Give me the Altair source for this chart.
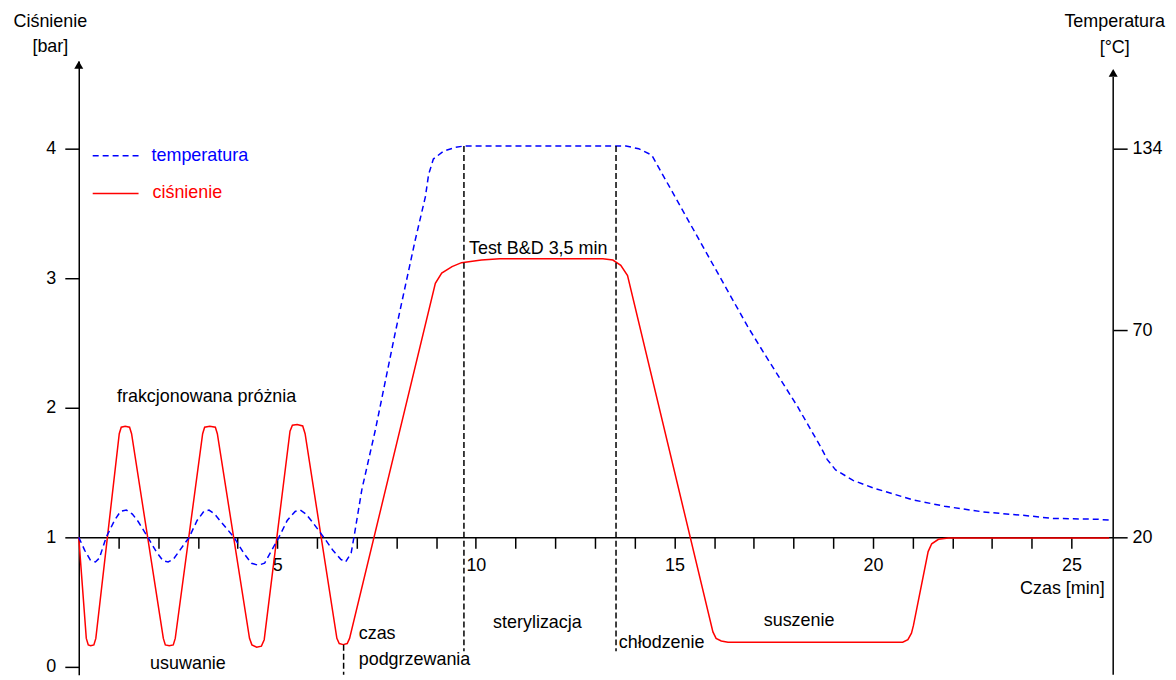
import altair as alt
import pandas as pd

# ---------------- data ----------------
# pressure curve (bar) vs time (min)
red_time = [0.0, 0.19, 0.24, 0.30, 0.38, 0.43, 1.02, 1.07, 1.17, 1.28, 1.33,
            2.13, 2.18, 2.28, 2.38, 2.43, 3.12, 3.17, 3.30, 3.44, 3.49,
            4.30, 4.36, 4.48, 4.60, 4.67, 5.32, 5.38, 5.50, 5.64, 5.70,
            6.50, 6.56, 6.66, 6.76, 6.82, 8.98, 9.14, 9.40, 9.64, 10.14,
            10.60, 13.20, 13.45, 13.65, 13.82, 15.97, 16.05, 16.18, 16.35,
            20.75, 20.88, 20.97, 21.02, 21.39, 21.48, 21.65, 21.90, 25.95]
red_pressure = [1.0, 0.22, 0.17, 0.163, 0.17, 0.22, 1.80, 1.85, 1.857, 1.85, 1.80,
                0.22, 0.17, 0.163, 0.17, 0.22, 1.80, 1.85, 1.857, 1.85, 1.80,
                0.22, 0.17, 0.152, 0.16, 0.21, 1.82, 1.865, 1.87, 1.86, 1.80,
                0.22, 0.18, 0.172, 0.18, 0.22, 2.96, 3.04, 3.09, 3.12, 3.14,
                3.15, 3.15, 3.14, 3.10, 3.02, 0.27, 0.22, 0.20, 0.19,
                0.19, 0.21, 0.26, 0.32, 0.89, 0.95, 0.985, 0.995, 0.995]

# temperature curve, read against the left (bar) scale; right axis labels it in degC
blue_time = [0.0, 0.15, 0.30, 0.42, 0.52, 0.69, 0.90, 1.05, 1.20, 1.35, 1.50, 1.74,
             1.95, 2.12, 2.25, 2.38, 2.78, 2.98, 3.15, 3.28, 3.42, 3.58, 3.91,
             4.15, 4.35, 4.52, 4.68, 5.04, 5.25, 5.45, 5.58, 5.72, 5.88, 6.17,
             6.40, 6.60, 6.72, 6.86, 6.93, 7.13, 7.47, 7.97, 8.47, 8.73, 8.81,
             8.93, 9.18, 9.48, 9.69, 13.78, 14.10, 14.43, 15.16, 16.00, 16.84,
             17.26, 18.10, 18.68, 18.85, 19.06, 19.50, 20.02, 21.00, 21.80,
             22.78, 23.78, 24.53, 25.62, 25.96]
blue_level = [1.0, 0.90, 0.82, 0.81, 0.84, 1.0, 1.13, 1.20, 1.21, 1.18, 1.12, 1.0,
              0.89, 0.82, 0.81, 0.83, 1.0, 1.13, 1.20, 1.21, 1.18, 1.12, 1.0,
              0.88, 0.80, 0.785, 0.80, 1.0, 1.13, 1.20, 1.21, 1.18, 1.12, 1.0,
              0.90, 0.83, 0.81, 0.88, 1.0, 1.37, 1.83, 2.58, 3.29, 3.63, 3.80,
              3.92, 3.98, 4.01, 4.02, 4.02, 4.00, 3.95, 3.55, 3.09, 2.63,
              2.42, 2.01, 1.70, 1.60, 1.52, 1.44, 1.38, 1.29, 1.24,
              1.196, 1.17, 1.146, 1.14, 1.133]

# dashed phase markers
phase_time = [6.67, 9.70, 13.53]
phase_top = [0.17, 4.02, 4.02]
phase_bottom = [-0.06, 0.12, 0.12]

# axes
x_tick_values = list(range(1, 26))
p_tick_values = [0, 1, 2, 3, 4]
temp_tick_labels = ["20", "70", "134"]
temp_tick_pos = [1.0, 2.6, 4.0]

# annotations
center_labels = ["frakcjonowana próżnia", "usuwanie", "sterylizacja", "suszenie", "Test B&D 3,5 min"]
center_t = [3.22, 2.75, 11.55, 18.14, 11.57]
center_p = [2.085, 0.023, 0.338, 0.354, 3.228]
left_labels = ["czas", "podgrzewania", "chłodzenie"]
left_t = [7.05, 7.05, 13.60]
left_p = [0.254, 0.054, 0.185]
legend_labels = ["temperatura", "ciśnienie"]

# ---------------- chart ----------------
W, H = 1038, 616
FONT = "Liberation Sans"
RED = "#ff0000"
BLUE = "#0000ff"

# plot spans y = 60 .. 676 px on the page; 1 bar = 130 px, 0 bar at 668 px
xscale = alt.Scale(domain=[0, 26.05], nice=False, zero=False)
yscale = alt.Scale(domain=[-0.0615, 4.677], nice=False, zero=False)

red_df = pd.DataFrame({"t": red_time, "p": red_pressure})
blue_df = pd.DataFrame({"t": blue_time, "v": blue_level})
phase_df = pd.DataFrame({"t": phase_time, "top": phase_top, "bottom": phase_bottom})
center_df = pd.DataFrame({"t": center_t, "p": center_p, "label": center_labels})
left_df = pd.DataFrame({"t": left_t, "p": left_p, "label": left_labels})
one = pd.DataFrame({"k": [0]})

temp_expr = " : ".join(
    f"datum.value == {p} ? '{l}'" for p, l in zip(temp_tick_pos, temp_tick_labels)
) + " : ''"

x_axis = alt.Axis(
    orient="bottom", values=x_tick_values, offset=-138, tickSize=11, labelPadding=8,
    labelExpr="datum.value % 5 == 0 ? datum.label : ''",
    title="Czas [min]", titleAngle=0, titleAlign="right", titleBaseline="middle",
    titleX=1029, titleY=51,
)
y_left = alt.Axis(
    orient="left", values=p_tick_values, tickSize=14, labelPadding=9,
    title=["Ciśnienie", "[bar]"], titleAngle=0, titleAlign="center",
    titleBaseline="top", titleX=-29, titleY=-49, titleLineHeight=26,
)
y_right = alt.Axis(
    orient="right", values=temp_tick_pos, labelExpr=temp_expr, domain=False,
    tickSize=14, labelPadding=5,
    title=["Temperatura", "[°C]"], titleAngle=0, titleAlign="center",
    titleBaseline="top", titleX=1, titleY=-49, titleLineHeight=27,
)

X = alt.X("t:Q", scale=xscale, axis=x_axis)

red = alt.Chart(red_df).mark_line(color=RED, strokeWidth=1.5).encode(
    x=X,
    y=alt.Y("p:Q", scale=yscale, axis=y_left),
)
blue = alt.Chart(blue_df).mark_line(color=BLUE, strokeWidth=1.5, strokeDash=[6, 4]).encode(
    x=X,
    y=alt.Y("v:Q", scale=yscale, axis=y_right),
)
phases = alt.Chart(phase_df).mark_rule(color="black", strokeWidth=1.5, strokeDash=[6, 3]).encode(
    x=X,
    y=alt.Y("top:Q", scale=yscale, axis=None),
    y2="bottom:Q",
)
txt_center = alt.Chart(center_df).mark_text(
    align="center", baseline="middle", font=FONT, fontSize=18, color="black"
).encode(
    x=X,
    y=alt.Y("p:Q", scale=yscale, axis=None),
    text="label:N",
)
txt_left = alt.Chart(left_df).mark_text(
    align="left", baseline="middle", font=FONT, fontSize=18, color="black"
).encode(
    x=X,
    y=alt.Y("p:Q", scale=yscale, axis=None),
    text="label:N",
)

# legend (drawn in pixel space, as in the reference)
leg_blue = alt.Chart(one).mark_rule(color=BLUE, strokeWidth=1.5, strokeDash=[6, 4]).encode(
    x=alt.value(14), x2=alt.value(61), y=alt.value(95))
leg_blue_t = alt.Chart(one).mark_text(align="left", baseline="middle", font=FONT, fontSize=18, color=BLUE).encode(
    x=alt.value(73), y=alt.value(95), text=alt.value(legend_labels[0]))
leg_red = alt.Chart(one).mark_rule(color=RED, strokeWidth=1.5).encode(
    x=alt.value(14), x2=alt.value(60), y=alt.value(133))
leg_red_t = alt.Chart(one).mark_text(align="left", baseline="middle", font=FONT, fontSize=18, color=RED).encode(
    x=alt.value(74), y=alt.value(133), text=alt.value(legend_labels[1]))

# right axis line and arrow heads
right_line = alt.Chart(one).mark_rule(color="black", strokeWidth=1.5).encode(
    x=alt.value(W), y=alt.value(16), y2=alt.value(H))
arrow_left = alt.Chart(one).mark_point(shape="triangle-up", filled=True, size=81, color="black", opacity=1).encode(
    x=alt.value(0), y=alt.value(3.9))
arrow_right = alt.Chart(one).mark_point(shape="triangle-up", filled=True, size=81, color="black", opacity=1).encode(
    x=alt.value(W), y=alt.value(11.9))

chart = alt.layer(
    red, blue, phases, txt_center, txt_left,
    leg_blue, leg_blue_t, leg_red, leg_red_t,
    right_line, arrow_left, arrow_right,
).resolve_axis(y="independent").properties(
    width=W, height=H,
    autosize=alt.AutoSizeParams(type="none"),
    padding={"left": 71, "top": 52, "right": 55, "bottom": 0},
    background="white",
).configure_view(stroke=None).configure_axis(
    labelFont=FONT, labelFontSize=18, labelColor="black",
    titleFont=FONT, titleFontSize=18, titleColor="black", titleFontWeight="normal",
    tickColor="black", tickWidth=1.5, domainColor="black", domainWidth=1.5,
    grid=False, labelOverlap=False, labelFlush=False, labelBound=False,
)

chart.save("out.html", embed_options={"renderer": "svg", "actions": False})
